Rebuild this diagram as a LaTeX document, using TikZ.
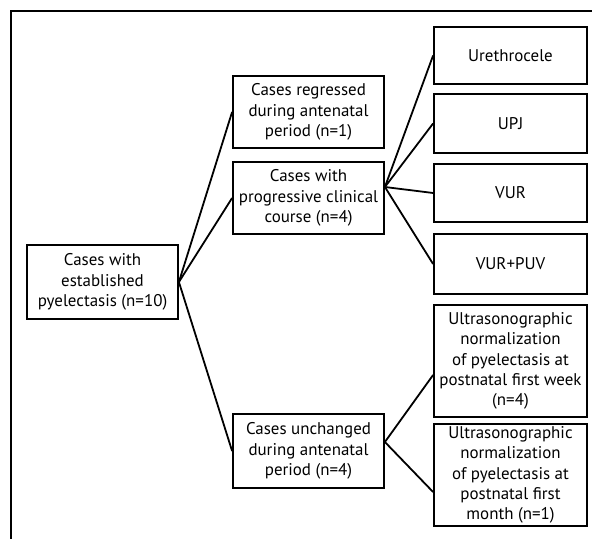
\documentclass[tikz,border=0pt]{standalone}
\usepackage{fontspec}
\setmainfont{PT Sans}
\begin{document}
\begin{tikzpicture}[x=1bp,y=-1bp,
  box/.style={draw,line width=1.8bp,align=center,inner sep=1bp,
    font=\fontsize{17}{20.3}\selectfont},
  link/.style={line width=1.8bp}]
\useasboundingbox (0,0) rectangle (592,539);
% outer frame (cut at right and bottom)
\draw[line width=2bp] (10.5,539)--(10.5,11.5)--(592,11.5);
% first level
\node[box,minimum width=151bp,minimum height=74bp] (root) at (102.5,282)
  {Cases with\\established\\pyelectasis (n=10)};
% second level
\node[box,minimum width=151bp,minimum height=72bp] (regr) at (308.5,112)
  {Cases regressed\\during antenatal\\period (n=1)};
\node[box,minimum width=151bp,minimum height=72bp] (prog) at (308.5,198)
  {Cases with\\progressive clinical\\course (n=4)};
\node[box,minimum width=151bp,minimum height=74bp] (unch) at (308.5,451)
  {Cases unchanged\\during antenatal\\period (n=4)};
% third level
\node[box,minimum width=153bp,minimum height=57bp] (ureth) at (510.5,55.5) {Urethrocele};
\node[box,minimum width=153bp,minimum height=59bp] (upj) at (510.5,123.5) {UPJ};
\node[box,minimum width=153bp,minimum height=58bp] (vur) at (510.5,193) {VUR};
\node[box,minimum width=153bp,minimum height=60bp] (puv) at (510.5,264) {VUR+PUV};
\node[box,minimum width=153bp,minimum height=112bp] (week) at (510.5,361)
  {Ultrasonographic\\normalization\\of pyelectasis at\\postnatal first week\\(n=4)};
\node[box,minimum width=153bp,minimum height=102bp] (month) at (510.5,475)
  {Ultrasonographic\\normalization\\of pyelectasis at\\postnatal first\\month (n=1)};
% connectors
\draw[link] (root.east)--(regr.west);
\draw[link] (root.east)--(prog.west);
\draw[link] (root.east)--(unch.west);
\draw[link] ([yshift=11bp]prog.east)--(ureth.west);
\draw[link] ([yshift=11bp]prog.east)--(upj.west);
\draw[link] ([yshift=11bp]prog.east)--(vur.west);
\draw[link] ([yshift=11bp]prog.east)--(puv.west);
\draw[link] ([yshift=9bp]unch.east)--([yshift=-14bp]week.west);
\draw[link] ([yshift=9bp]unch.east)--([yshift=-17bp]month.west);
\end{tikzpicture}
\end{document}
